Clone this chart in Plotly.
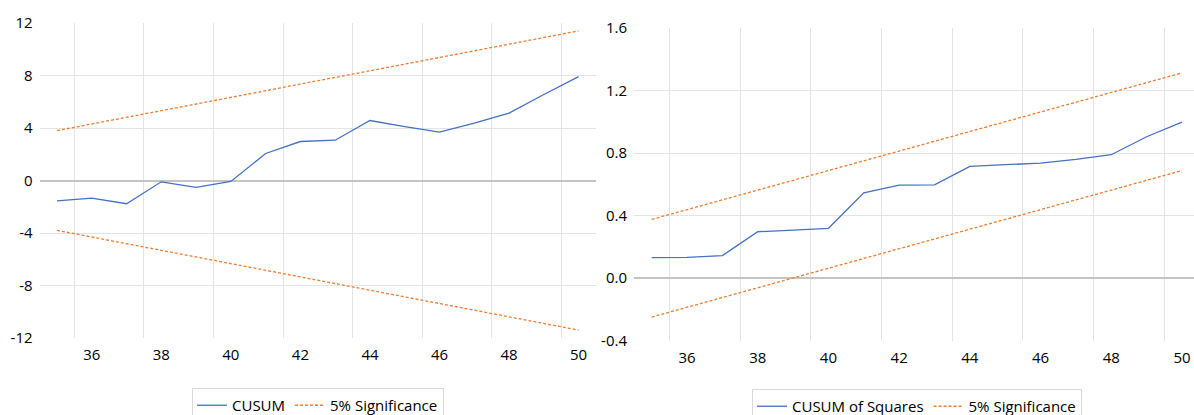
import plotly.graph_objects as go

periods = list(range(35, 51))
cusum = [-1.55, -1.34, -1.77, -0.10, -0.53, -0.07, 2.06, 2.97, 3.07, 4.57, 4.11, 3.68, 4.37, 5.13, 6.55, 7.92]
cusum_upper = [3.80, 4.31, 4.81, 5.32, 5.83, 6.33, 6.84, 7.35, 7.85, 8.36, 8.87, 9.37, 9.88, 10.39, 10.89, 11.40]
cusum_lower = [-3.80, -4.31, -4.81, -5.32, -5.83, -6.33, -6.84, -7.35, -7.85, -8.36, -8.87, -9.37, -9.88, -10.39, -10.89, -11.40]

cusumsq = [0.130, 0.132, 0.143, 0.296, 0.307, 0.318, 0.545, 0.595, 0.596, 0.714, 0.725, 0.735, 0.759, 0.789, 0.904, 0.998]
sq_upper = [0.375, 0.4375, 0.500, 0.5625, 0.625, 0.6875, 0.750, 0.8125, 0.875, 0.9375, 1.000, 1.0625, 1.125, 1.1875, 1.250, 1.3125]
sq_lower = [-0.250, -0.1875, -0.125, -0.0625, 0.000, 0.0625, 0.125, 0.1875, 0.250, 0.3125, 0.375, 0.4375, 0.500, 0.5625, 0.625, 0.6875]

x_ticks = [36, 38, 40, 42, 44, 46, 48, 50]
x_grid = [35.5, 37.5, 39.5, 41.5, 43.5, 45.5, 47.5, 49.5]
left_yticks = [-12, -8, -4, 0, 4, 8, 12]
left_ylabels = ["-12", "-8", "-4", "0", "4", "8", "12"]
left_ygrid = [-8, -4, 4, 8]
right_yticks = [-0.4, 0.0, 0.4, 0.8, 1.2, 1.6]
right_ylabels = ["-0.4", "0.0", "0.4", "0.8", "1.2", "1.6"]
right_ygrid = [0.4, 0.8, 1.2]

BLUE = "#4472C4"
ORANGE = "#ED7D31"
GRID = "#e4e4e4"
ZERO = "#c4c4c4"
FONT = "Open Sans, sans-serif"

fig = go.Figure()
fig.add_trace(go.Scatter(x=periods, y=cusum, mode="lines", name="CUSUM",
                         line=dict(color=BLUE, width=1.3), xaxis="x", yaxis="y", legend="legend"))
fig.add_trace(go.Scatter(x=periods, y=cusum_upper, mode="lines", name="5% Significance",
                         line=dict(color=ORANGE, width=1.3, dash="3px,2px"), xaxis="x", yaxis="y",
                         legend="legend", legendgroup="s1"))
fig.add_trace(go.Scatter(x=periods, y=cusum_lower, mode="lines", name="5% Significance",
                         line=dict(color=ORANGE, width=1.3, dash="3px,2px"), xaxis="x", yaxis="y",
                         legend="legend", legendgroup="s1", showlegend=False))

fig.add_trace(go.Scatter(x=periods, y=cusumsq, mode="lines", name="CUSUM of Squares",
                         line=dict(color=BLUE, width=1.3), xaxis="x2", yaxis="y2", legend="legend2"))
fig.add_trace(go.Scatter(x=periods, y=sq_upper, mode="lines", name="5% Significance",
                         line=dict(color=ORANGE, width=1.3, dash="3px,2px"), xaxis="x2", yaxis="y2",
                         legend="legend2", legendgroup="s2"))
fig.add_trace(go.Scatter(x=periods, y=sq_lower, mode="lines", name="5% Significance",
                         line=dict(color=ORANGE, width=1.3, dash="3px,2px"), xaxis="x2", yaxis="y2",
                         legend="legend2", legendgroup="s2", showlegend=False))

W, H = 1194, 415

def xaxis(x0, x1, rng, anchor):
    return dict(domain=[x0 / W, x1 / W], range=rng, anchor=anchor,
                tickmode="array", tickvals=x_ticks, ticktext=[str(v) for v in x_ticks],
                showgrid=False, zeroline=False, showline=False, ticks="",
                ticklabelstandoff=6,
                minor=dict(tickmode="array", tickvals=x_grid, showgrid=True, gridcolor=GRID,
                           gridwidth=1, ticks=""),
                tickfont=dict(family=FONT, size=15, color="#000000"))

def yaxis(top, bottom, rng, ticks, labels, grid, anchor):
    return dict(domain=[(H - bottom) / H, (H - top) / H], range=rng, anchor=anchor,
                tickmode="array", tickvals=ticks, ticktext=labels,
                showgrid=False, zeroline=True, zerolinecolor=ZERO, zerolinewidth=2,
                showline=False, ticks="", ticklabelstandoff=6,
                minor=dict(tickmode="array", tickvals=grid, showgrid=True, gridcolor=GRID,
                           gridwidth=1, ticks=""),
                tickfont=dict(family=FONT, size=15, color="#000000"))

fig.update_layout(
    width=W, height=H,
    margin=dict(l=0, r=0, t=0, b=0, autoexpand=False),
    paper_bgcolor="white", plot_bgcolor="white",
    font=dict(family=FONT, size=15, color="#000000"),
    xaxis=xaxis(39.6, 596, [34.5, 50.5], "y"),
    yaxis=yaxis(23, 338, [-12, 12], left_yticks, left_ylabels, left_ygrid, "x"),
    xaxis2=xaxis(634, 1194, [34.5, 50.34], "y2"),
    yaxis2=yaxis(28, 340.5, [-0.4, 1.6], right_yticks, right_ylabels, right_ygrid, "x2"),
    legend=dict(orientation="h", x=192 / W, y=(H - 388) / H, xanchor="left", yanchor="top",
                bordercolor="#d9d9d9", borderwidth=1, bgcolor="white",
                font=dict(family=FONT, size=15, color="#000000"), itemwidth=30,
                tracegroupgap=0),
    legend2=dict(orientation="h", x=752 / W, y=(H - 389) / H, xanchor="left", yanchor="top",
                 bordercolor="#d9d9d9", borderwidth=1, bgcolor="white",
                 font=dict(family=FONT, size=15, color="#000000"), itemwidth=30,
                 tracegroupgap=0),
    showlegend=True,
)

fig.write_html("out.html", config={"displayModeBar": False},
               post_script="document.body.style.margin='0px';document.body.style.overflow='hidden';")
